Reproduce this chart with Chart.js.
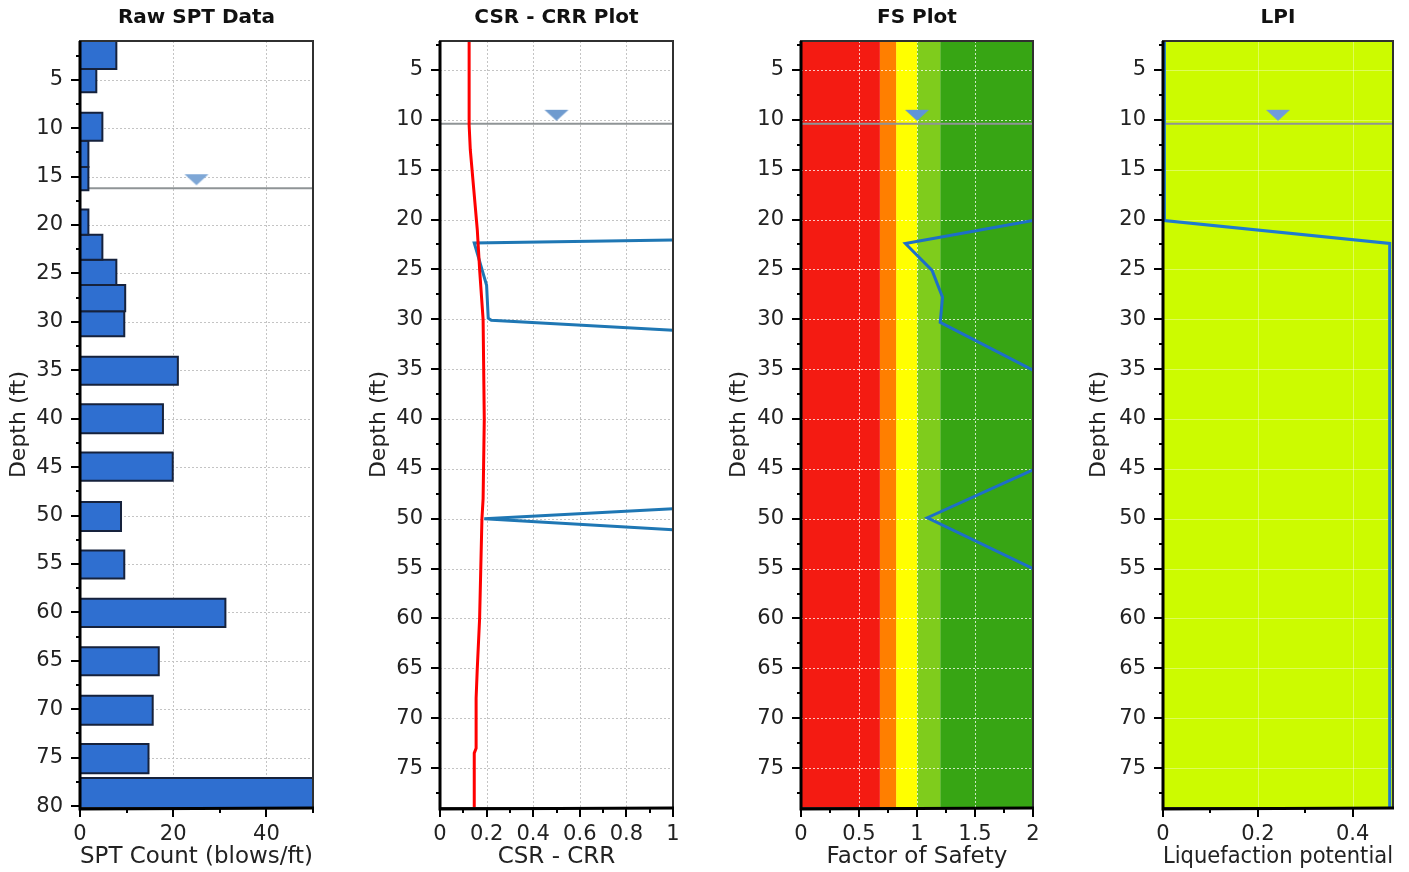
<!DOCTYPE html>
<html><head><meta charset="utf-8">
<script src="https://cdn.jsdelivr.net/npm/chart.js@4.4.1/dist/chart.umd.min.js"></script>
<style>
html,body{margin:0;padding:0;background:#fff;width:1409px;height:872px;overflow:hidden}
canvas{position:absolute;top:0}
</style></head><body>
<canvas id="c1" width="360" height="872" style="left:0px"></canvas>
<canvas id="c2" width="360" height="872" style="left:360px"></canvas>
<canvas id="c3" width="360" height="872" style="left:720px"></canvas>
<canvas id="c4" width="329" height="872" style="left:1080px"></canvas>
<script>
// ---------- DATA ----------
// Panel 1: Raw SPT data (depth intervals in ft, blow count)
const sptTop    = [1.0, 3.9, 8.4, 11.3, 14.0, 18.4, 21.0, 23.6, 26.2, 28.9, 33.6, 38.5, 43.5, 48.6, 53.6, 58.6, 63.6, 68.6, 73.6, 77.1];
const sptBottom = [3.9, 6.3, 11.3, 14.0, 16.4, 21.0, 23.6, 26.2, 28.9, 31.5, 36.5, 41.5, 46.4, 51.6, 56.5, 61.5, 66.5, 71.6, 76.6, 80.2];
const sptCount  = [7.8, 3.5, 4.8, 1.8, 1.8, 1.8, 4.8, 7.8, 9.7, 9.5, 21.0, 17.8, 19.9, 8.8, 9.5, 31.2, 16.9, 15.6, 14.7, 50];
const sptWaterDepth = 16.2;

// Panel 2: CSR - CRR
const csrDepth = [2.1, 10.5, 13, 17, 21, 25, 30, 40, 48, 50, 55, 60, 65, 68, 73, 73.5, 79];
const csrValue = [0.125, 0.125, 0.13, 0.145, 0.16, 0.17, 0.185, 0.19, 0.185, 0.18, 0.175, 0.17, 0.16, 0.155, 0.155, 0.147, 0.147];
const crrDepth = [22.05, 22.35, 26.6, 29.9, 30.1, 31.1, null, 49.0, 50.0, 51.1];
const crrValue = [1.0, 0.147, 0.2, 0.207, 0.22, 1.0, null, 1.0, 0.19, 1.0];

// Panel 3: Factor of safety
const fsBandFrom = [0, 0.68, 0.82, 1.0, 1.2];
const fsBandTo   = [0.68, 0.82, 1.0, 1.2, 2.0];
const fsDepth = [20.1, 22.4, 25.1, 27.8, 30.3, 35.1, null, 45.1, 49.9, 55.0];
const fsValue = [2.0, 0.9, 1.13, 1.22, 1.2, 2.0, null, 2.0, 1.09, 2.0];

// Panel 4: LPI
const lpiDepth = [2.1, 20.1, 22.4, 79];
const lpiValue = [0.003, 0.003, 0.478, 0.478];

const waterDepth = 10.4;

// ---------- STYLE / HELPERS ----------
Chart.defaults.font.family = "'DejaVu Sans', Verdana, sans-serif";
Chart.defaults.color = '#222';

function isMajor(v, major){ const r = v / major; return Math.abs(r - Math.round(r)) < 1e-6; }
function fmt(v){ return String(Math.round(v * 1000) / 1000); }
function pts(xs, ys){ return ys.map((y, i) => ({x: xs[i], y: y})); }

function triImg(color){
  const c = document.createElement('canvas'); c.width = 26; c.height = 30;
  const g = c.getContext('2d'); g.fillStyle = color;
  g.beginPath(); g.moveTo(1, 1); g.lineTo(25, 1); g.lineTo(13, 12); g.closePath(); g.fill();
  return c;
}

function lineDs(data, color, width, order){
  return {type:'scatter', showLine:true, data, borderColor:color, borderWidth:width, pointRadius:0, fill:false, tension:0, spanGaps:false, order};
}
function rectDs(x0, x1, y0, y1, fillColor, borderColor, bw, order, isBand){
  return {type:'scatter', showLine:true, isBand,
    data:[{x:x0,y:y0},{x:x1,y:y0},{x:x1,y:y1},{x:x0,y:y1},{x:x0,y:y0}],
    backgroundColor:fillColor, borderColor:borderColor, borderWidth:bw, borderJoinStyle:'miter',
    fill:'shape', pointRadius:0, tension:0, order};
}
function waterDs(xMin, xMax, depth, triColor){
  return [
    lineDs([{x:xMin,y:depth},{x:xMax,y:depth}], '#8f9496', 2, 2),
    {type:'scatter', data:[{x:(xMin+xMax)/2, y:depth}], pointStyle:triImg(triColor), pointRadius:12, order:0}
  ];
}

function drawGrid(chart){
  const o = chart.options.plugins.deco, ctx = chart.ctx, a = chart.chartArea;
  const xs = chart.scales.x, ys = chart.scales.y;
  ctx.save();
  ctx.beginPath(); ctx.rect(a.left, a.top, a.right - a.left, a.bottom - a.top); ctx.clip();
  ctx.strokeStyle = o.gridColor; ctx.lineWidth = 1; ctx.setLineDash(o.gridDash);
  xs.ticks.forEach(t => {
    if (!isMajor(t.value, o.xMajor)) return;
    const p = Math.round(xs.getPixelForValue(t.value)) + 0.5;
    if (p < a.left + 3 || p > a.right - 3) return;
    ctx.beginPath(); ctx.moveTo(p, a.top); ctx.lineTo(p, a.bottom); ctx.stroke();
  });
  ys.ticks.forEach(t => {
    if (!isMajor(t.value, 5)) return;
    const p = Math.round(ys.getPixelForValue(t.value)) + 0.5;
    if (p < a.top + 3 || p > a.bottom - 3) return;
    ctx.beginPath(); ctx.moveTo(a.left, p); ctx.lineTo(a.right, p); ctx.stroke();
  });
  ctx.restore();
}
function drawFrame(chart){
  const o = chart.options.plugins.deco, ctx = chart.ctx, a = chart.chartArea;
  const xs = chart.scales.x, ys = chart.scales.y;
  ctx.save();
  ctx.strokeStyle = '#303030'; ctx.lineWidth = 2;
  ctx.strokeRect(a.left, a.top, a.right - a.left, a.bottom - a.top);
  ctx.strokeStyle = '#000'; ctx.lineWidth = 3;
  ctx.beginPath(); ctx.moveTo(a.left, a.top); ctx.lineTo(a.left, a.bottom + 1); ctx.lineTo(a.right + 1, a.bottom); ctx.stroke();
  ctx.lineWidth = 2;
  ys.ticks.forEach(t => {
    const p = Math.round(ys.getPixelForValue(t.value));
    const len = isMajor(t.value, 5) ? 9 : 4;
    ctx.beginPath(); ctx.moveTo(a.left - len, p); ctx.lineTo(a.left, p); ctx.stroke();
  });
  xs.ticks.forEach(t => {
    const p = Math.round(xs.getPixelForValue(t.value));
    const len = isMajor(t.value, o.xMajor) ? 9 : 5;
    ctx.beginPath(); ctx.moveTo(p, a.bottom); ctx.lineTo(p, a.bottom + len); ctx.stroke();
  });
  ctx.restore();
}
const deco = {
  id:'deco',
  beforeDatasetsDraw(chart){ chart.$gridDone = false; },
  beforeDatasetDraw(chart, args){
    const ds = chart.data.datasets[args.index];
    if (!ds.isBand && !chart.$gridDone){ drawGrid(chart); chart.$gridDone = true; }
  },
  afterDatasetsDraw(chart){
    if (!chart.$gridDone){ drawGrid(chart); chart.$gridDone = true; }
    drawFrame(chart);
  }
};

function makeChart(id, c){
  return new Chart(document.getElementById(id), {
    type:'scatter',
    data:{datasets:c.datasets},
    options:{
      responsive:false, animation:false, events:[],
      layout:{padding:{left:0, right:c.padRight, top:0, bottom:0}},
      plugins:{
        legend:{display:false}, tooltip:{enabled:false},
        title:{display:true, text:c.title, fullSize:false, color:'#111', font:{size:20, weight:'bold'}, padding:{top:6, bottom:11}},
        deco:{gridColor:c.gridColor, gridDash:c.gridDash, xMajor:c.xMajor}
      },
      scales:{
        x:{type:'linear', position:'bottom', min:c.xMin, max:c.xMax,
          grid:{display:false, drawTicks:false, tickLength:0}, border:{display:false},
          ticks:{stepSize:c.xStep, autoSkip:false, maxRotation:0, minRotation:0, includeBounds:false, padding:14,
            font:{size:21}, color:'#222', callback:(v) => isMajor(v, c.xMajor) ? fmt(v) : ''},
          title:{display:true, text:c.xTitle, font:{size:23}, color:'#222', padding:{top:0, bottom:1}},
          afterFit:(s) => { s.height = 64; }},
        y:{type:'linear', position:'left', reverse:true, min:c.yMin, max:c.yMax,
          grid:{display:false, drawTicks:false, tickLength:0}, border:{display:false},
          ticks:{stepSize:2.5, autoSkip:false, includeBounds:false, padding:17,
            font:{size:21}, color:'#222', callback:(v) => isMajor(v, 5) ? fmt(v) : ''},
          title:{display:true, text:'Depth (ft)', font:{size:22}, color:'#222', padding:{top:6, bottom:0}},
          afterFit:(s) => { s.width = c.axisW; }}
      }
    },
    plugins:[deco]
  });
}

// Panel 1
makeChart('c1', {
  title:'Raw SPT Data', xTitle:'SPT Count (blows/ft)', xMin:0, xMax:50, xStep:10, xMajor:20,
  yMin:1, yMax:80.2, axisW:80, padRight:47, gridColor:'#c4c4c4', gridDash:[2,2],
  datasets:[
    ...waterDs(0, 50, sptWaterDepth, '#7ea7d6'),
    ...sptTop.map((t, i) => rectDs(0, sptCount[i], t, sptBottom[i], '#2f6fd0', '#16223c', 2, 1, false))
  ]
});

// Panel 2
makeChart('c2', {
  title:'CSR - CRR Plot', xTitle:'CSR - CRR', xMin:0, xMax:1, xStep:0.1, xMajor:0.2,
  yMin:2.1, yMax:79, axisW:80, padRight:47, gridColor:'#c4c4c4', gridDash:[2,2],
  datasets:[
    ...waterDs(0, 1, waterDepth, '#6f9bcf'),
    lineDs(pts(csrValue, csrDepth), '#ff0000', 3, 1),
    lineDs(pts(crrValue, crrDepth), '#1f77b4', 3, 1)
  ]
});

// Panel 3
const fsColors = ['#f41b12', '#ff7f00', '#ffff00', '#7fcc1c', '#37a514'];
makeChart('c3', {
  title:'FS Plot', xTitle:'Factor of Safety', xMin:0, xMax:2, xStep:0.25, xMajor:0.5,
  yMin:2.1, yMax:79, axisW:81, padRight:47, gridColor:'rgba(255,255,255,0.75)', gridDash:[2,2],
  datasets:[
    ...waterDs(0, 2, waterDepth, '#5f95d8'),
    lineDs(pts(fsValue, fsDepth), '#1e6fc8', 3, 1),
    ...fsBandFrom.map((f, i) => rectDs(f, fsBandTo[i], 2.1, 79, fsColors[i], 'rgba(0,0,0,0)', 0, 5, true))
  ]
});

// Panel 4
makeChart('c4', {
  title:'LPI', xTitle:'Liquefaction potential', xMin:0, xMax:0.485, xStep:0.1, xMajor:0.2,
  yMin:2.1, yMax:79, axisW:83, padRight:16, gridColor:'rgba(255,255,255,0.35)', gridDash:[],
  datasets:[
    ...waterDs(0, 0.485, waterDepth, '#6f9bdc'),
    lineDs(pts(lpiValue, lpiDepth), '#1f7ad0', 3, 1),
    rectDs(0, 0.485, 2.1, 79, '#ccfb00', 'rgba(0,0,0,0)', 0, 5, true)
  ]
});
</script>
</body></html>
